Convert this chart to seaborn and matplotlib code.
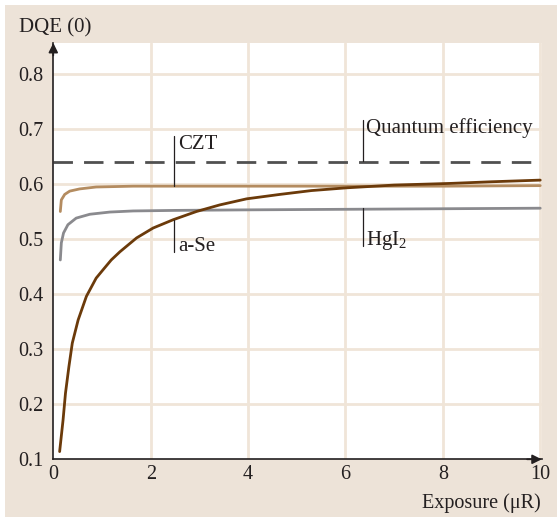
import matplotlib
matplotlib.use("Agg")
import matplotlib.pyplot as plt
import seaborn as sns
import pandas as pd
from matplotlib.patches import Rectangle

# ---- data ----
ase_x = [0.13, 0.20, 0.25, 0.32, 0.39, 0.51, 0.68, 0.88, 1.02, 1.19, 1.37, 1.71,
         2.05, 2.46, 2.94, 3.42, 3.97, 4.65, 5.30, 6.02, 7.00, 8.15, 9.00, 10.0]
ase_y = [0.114, 0.171, 0.220, 0.268, 0.311, 0.353, 0.396, 0.429, 0.444, 0.462,
         0.477, 0.502, 0.520, 0.535, 0.550, 0.562, 0.573, 0.581, 0.588, 0.593,
         0.598, 0.601, 0.604, 0.607]

hgi_x = [0.144, 0.165, 0.21, 0.30, 0.47, 0.75, 1.16, 1.64, 2.5, 4.0, 6.0, 8.0, 10.0]
hgi_y = [0.462, 0.493, 0.511, 0.526, 0.538, 0.545, 0.549, 0.551, 0.552, 0.553,
         0.554, 0.555, 0.556]

czt_x = [0.144, 0.165, 0.234, 0.337, 0.54, 0.88, 1.64, 2.5, 4.0, 6.0, 8.0, 10.0]
czt_y = [0.550, 0.571, 0.581, 0.587, 0.591, 0.5945, 0.596, 0.596, 0.596, 0.596,
         0.596, 0.597]

qe_x = [0.0, 10.03]
qe_y = [0.64, 0.64]

x_ticks = [0, 2, 4, 6, 8, 10]
y_ticks = [0.1, 0.2, 0.3, 0.4, 0.5, 0.6, 0.7, 0.8]

# ---- styling ----
sns.set_theme(style="white")
plt.rcParams['font.family'] = ['Liberation Serif', 'DejaVu Serif']
plt.rcParams['mathtext.fontset'] = 'custom'
plt.rcParams['mathtext.rm'] = 'Liberation Serif'
plt.rcParams['mathtext.it'] = 'Liberation Serif:italic'

BEIGE = '#ede3d8'
GRID = '#f0e5d8'
TXT = '#231f20'
C_CZT = '#b48c60'
C_HGI = '#8a8a8e'
C_ASE = '#6b3a0a'
C_QE = '#505050'

W, H = 557, 519
fig = plt.figure(figsize=(W / 100, H / 100), dpi=100, facecolor='white')
fig.patches.append(Rectangle((5 / W, 2 / H), 1 - 5 / W, 1 - 7 / H,
                             transform=fig.transFigure, facecolor=BEIGE,
                             edgecolor='none', zorder=-10))

ax_l, ax_r = 53.3 / W, 541.7 / W
ax_b, ax_t = (H - 459.3) / H, (H - 43) / H
ax = fig.add_axes([ax_l, ax_b, ax_r - ax_l, ax_t - ax_b])
ax.set_facecolor('white')

ax.set_xlim(0, 10.03)
ax.set_ylim(0.1, 0.856)

for v in x_ticks[1:]:
    ax.axvline(v, color=GRID, lw=2.0, zorder=0)
for v in y_ticks[1:]:
    ax.axhline(v, color=GRID, lw=2.0, zorder=0)

ax.plot(qe_x, qe_y, color=C_QE, lw=2.0, dashes=(7, 4), zorder=2)

df_czt = pd.DataFrame({'x': czt_x, 'y': czt_y})
df_hgi = pd.DataFrame({'x': hgi_x, 'y': hgi_y})
df_ase = pd.DataFrame({'x': ase_x, 'y': ase_y})
sns.lineplot(data=df_czt, x='x', y='y', ax=ax, color=C_CZT, lw=2.0, sort=False,
             estimator=None, zorder=3)
sns.lineplot(data=df_hgi, x='x', y='y', ax=ax, color=C_HGI, lw=2.0, sort=False,
             estimator=None, zorder=3)
sns.lineplot(data=df_ase, x='x', y='y', ax=ax, color=C_ASE, lw=2.0, sort=False,
             estimator=None, zorder=4)

# label leader lines and texts
lw_lead = 0.9
FS = 15
ax.plot([2.48, 2.48], [0.597, 0.687], color=TXT, lw=lw_lead, zorder=5)
ax.text(2.56, 0.671, 'CZT', fontsize=FS, color=TXT, va='center', ha='left')
ax.plot([2.48, 2.48], [0.535, 0.477], color=TXT, lw=lw_lead, zorder=5)
ax.text(2.56, 0.487, 'a-Se', fontsize=FS, color=TXT, va='center', ha='left')
ax.plot([6.35, 6.35], [0.642, 0.717], color=TXT, lw=lw_lead, zorder=5)
ax.text(6.43, 0.702, 'Quantum efficiency', fontsize=FS, color=TXT,
        va='center', ha='left')
ax.plot([6.35, 6.35], [0.557, 0.488], color=TXT, lw=lw_lead, zorder=5)
ax.text(6.43, 0.497, r'HgI$_2$', fontsize=FS, color=TXT, va='center', ha='left')

# axes styling
ax.set_xticks(x_ticks)
ax.set_yticks(y_ticks)
ax.set_xticklabels([str(v) for v in x_ticks])
ax.set_yticklabels([f'{v:.1f}' for v in y_ticks])
ax.tick_params(axis='both', length=0, labelsize=14.5, colors=TXT)
ax.tick_params(axis='y', pad=7)
ax.tick_params(axis='x', pad=4)
for s in ['top', 'right']:
    ax.spines[s].set_visible(False)
for s in ['left', 'bottom']:
    ax.spines[s].set_color(TXT)
    ax.spines[s].set_linewidth(1.2)
ax.set_xlabel('')
ax.set_ylabel('')

# arrow heads
ax.annotate('', xy=(0, 1.0), xytext=(0, 0.97), xycoords='axes fraction',
            arrowprops=dict(arrowstyle='-|>', color=TXT, lw=1.2,
                            mutation_scale=14, shrinkA=0, shrinkB=0))
ax.annotate('', xy=(1.0, 0), xytext=(0.97, 0), xycoords='axes fraction',
            arrowprops=dict(arrowstyle='-|>', color=TXT, lw=1.2,
                            mutation_scale=14, shrinkA=0, shrinkB=0))

fig.text(19 / W, 1 - 28 / H, 'DQE (0)', fontsize=15, color=TXT, ha='left', va='center')
fig.text(541 / W, 1 - 503 / H, 'Exposure (μR)', fontsize=14.5, color=TXT,
         ha='right', va='center')

fig.savefig('out.png', dpi=100, facecolor='white')
